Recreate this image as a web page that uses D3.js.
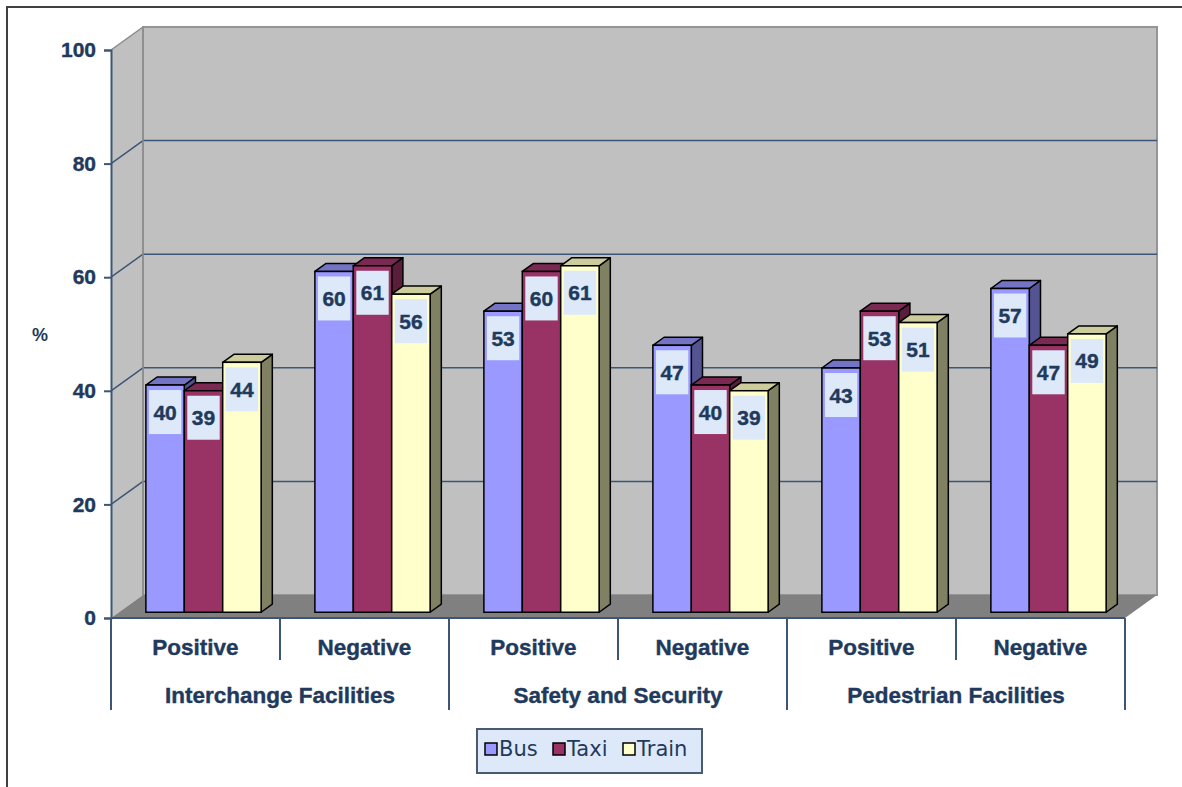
<!DOCTYPE html>
<html>
<head>
<meta charset="utf-8">
<script src="https://cdn.jsdelivr.net/npm/d3@7"></script>
<style>
  body { margin: 0; background: #fff; }
  svg { display: block; }
</style>
</head>
<body>
<div id="chart"></div>
<script>
const groups = ["Interchange Facilities", "Safety and Security", "Pedestrian Facilities"];
const subCats = ["Positive", "Negative"];
const series = ["Bus", "Taxi", "Train"];
const bus   = [40, 60, 53, 47, 43, 57];
const taxi  = [39, 61, 60, 40, 53, 47];
const train = [44, 56, 61, 39, 51, 49];
const yTicks = [0, 20, 40, 60, 80, 100];

const W = 1182, H = 787;
const navy = "#1f3a5c";
const axisCol = "#3d5675";
const boldFont = "Liberation Sans, Arial, sans-serif";

// colours per series: front, top, side
const colors = {
  Bus:   ["#9999ff", "#7474c4", "#545493"],
  Taxi:  ["#993366", "#7a2952", "#5a1d3b"],
  Train: ["#ffffcc", "#cccc9c", "#808062"]
};

const plotLeft = 111, plotRight = 1125, plotBottom = 618, plotTop = 50;
const depth = [32, -23]; // 3d offset of the back wall

const svg = d3.select("#chart").append("svg")
  .attr("width", W).attr("height", H);

// outer frame
svg.append("rect")
  .attr("x", 7).attr("y", 7).attr("width", W + 10).attr("height", H + 10)
  .attr("fill", "#fff").attr("stroke", "#404040").attr("stroke-width", 2);

const y = d3.scaleLinear().domain([0, 100]).range([plotBottom, plotTop]);

const cats = [];
groups.forEach(g => subCats.forEach(s => cats.push(g + "|" + s)));
const x0 = d3.scaleBand().domain(cats).range([plotLeft, plotRight]);
const x1 = d3.scaleBand().domain(series).range([0, x0.bandwidth()]).paddingOuter(0.7);

const dx = depth[0], dy = depth[1];

// side wall
svg.append("path")
  .attr("d", `M${plotLeft},${y(100)} L${plotLeft + dx},${y(100) + dy} L${plotLeft + dx},${y(0) + dy} L${plotLeft},${y(0)} Z`)
  .attr("fill", "#c0c0c0");
// back wall
svg.append("rect")
  .attr("x", plotLeft + dx).attr("y", y(100) + dy)
  .attr("width", plotRight - plotLeft).attr("height", y(0) - y(100))
  .attr("fill", "#c0c0c0").attr("stroke", "#959595").attr("stroke-width", 2);
// floor
svg.append("path")
  .attr("d", `M${plotLeft},${y(0)} L${plotRight},${y(0)} L${plotRight + dx},${y(0) + dy} L${plotLeft + dx},${y(0) + dy} Z`)
  .attr("fill", "#808080");

// gridlines (side wall diagonal + back wall)
const grid = svg.append("g");
yTicks.forEach(t => {
  if (t === 0) return;
  const c = t === 100 ? "#8a8a8a" : axisCol;
  grid.append("line")
    .attr("x1", plotLeft).attr("y1", y(t)).attr("x2", plotLeft + dx).attr("y2", y(t) + dy)
    .attr("stroke", c).attr("stroke-width", 1.5);
  if (t !== 100) {
    grid.append("line")
      .attr("x1", plotLeft + dx).attr("y1", y(t) + dy).attr("x2", plotRight + dx).attr("y2", y(t) + dy)
      .attr("stroke", c).attr("stroke-width", 1.5);
  }
});
// left edge of back wall
grid.append("line")
  .attr("x1", plotLeft + dx).attr("y1", y(100) + dy).attr("x2", plotLeft + dx).attr("y2", y(0) + dy)
  .attr("stroke", "#8e8e8e").attr("stroke-width", 1.5);

// bars
const f0 = 0.25, f1 = 0.6; // bar front / back plane as fraction of depth
const data = cats.map((c, i) => ({ cat: c, vals: { Bus: bus[i], Taxi: taxi[i], Train: train[i] } }));
const barG = svg.append("g");
const labels = [];
data.forEach(d => {
  series.forEach(s => {
    const v = d.vals[s];
    const bx = x0(d.cat) + x1(s) + dx * f0;
    const bw = x1.bandwidth();
    const by = y(v) + dy * f0;
    const b0 = y(0) + dy * f0;
    const ox = dx * (f1 - f0), oy = dy * (f1 - f0);
    const col = colors[s];
    barG.append("path") // side
      .attr("d", `M${bx + bw},${by} L${bx + bw + ox},${by + oy} L${bx + bw + ox},${b0 + oy} L${bx + bw},${b0} Z`)
      .attr("fill", col[2]).attr("stroke", "#000").attr("stroke-width", 1.5).attr("stroke-linejoin", "round");
    barG.append("path") // top
      .attr("d", `M${bx},${by} L${bx + ox},${by + oy} L${bx + bw + ox},${by + oy} L${bx + bw},${by} Z`)
      .attr("fill", col[1]).attr("stroke", "#000").attr("stroke-width", 1.5).attr("stroke-linejoin", "round");
    barG.append("rect") // front
      .attr("x", bx).attr("y", by).attr("width", bw).attr("height", b0 - by)
      .attr("fill", col[0]).attr("stroke", "#000").attr("stroke-width", 1.5);
    labels.push({ x: bx, w: bw, y: by, v: v });
  });
});

// value labels
const lab = svg.append("g");
labels.forEach(l => {
  lab.append("rect")
    .attr("x", l.x + 3).attr("y", l.y + 5).attr("width", l.w - 6).attr("height", 44)
    .attr("fill", "#dde9f8");
  lab.append("text")
    .attr("x", l.x + l.w / 2).attr("y", l.y + 27)
    .attr("text-anchor", "middle").attr("dominant-baseline", "central")
    .attr("font-family", boldFont).attr("font-weight", "bold")
    .attr("font-size", 21).attr("fill", navy)
    .attr("stroke", navy).attr("stroke-width", 0.4)
    .text(l.v);
});

// y axis
const yAxis = d3.axisLeft(y).tickValues(yTicks).tickSize(7).tickPadding(8);
const ya = svg.append("g").attr("transform", `translate(${plotLeft},0)`).call(yAxis);
ya.select(".domain").attr("stroke", axisCol).attr("stroke-width", 2);
ya.selectAll(".tick line").attr("stroke", axisCol).attr("stroke-width", 2);
ya.selectAll(".tick text")
  .attr("font-family", boldFont).attr("font-weight", "bold")
  .attr("font-size", 21).attr("fill", navy)
  .attr("stroke", navy).attr("stroke-width", 0.4);

svg.append("text")
  .attr("x", 40).attr("y", 335).attr("text-anchor", "middle").attr("dominant-baseline", "central")
  .attr("font-family", boldFont).attr("font-weight", "bold")
  .attr("font-size", 18).attr("fill", navy).text("%");

// x axis with two-level categories
const xa = svg.append("g");
xa.append("line")
  .attr("x1", plotLeft).attr("x2", plotRight).attr("y1", y(0)).attr("y2", y(0))
  .attr("stroke", axisCol).attr("stroke-width", 2);
cats.forEach((c, i) => {
  const xs = x0(c);
  const isGroupEdge = i % 2 === 0;
  xa.append("line")
    .attr("x1", xs).attr("x2", xs).attr("y1", y(0)).attr("y2", isGroupEdge ? 710 : 660)
    .attr("stroke", axisCol).attr("stroke-width", 2);
  xa.append("text")
    .attr("x", xs + x0.bandwidth() / 2).attr("y", 647)
    .attr("text-anchor", "middle").attr("dominant-baseline", "central")
    .attr("font-family", boldFont).attr("font-weight", "bold")
    .attr("font-size", 22.5).attr("fill", navy)
    .attr("stroke", navy).attr("stroke-width", 0.4)
    .text(c.split("|")[1]);
});
xa.append("line")
  .attr("x1", plotRight).attr("x2", plotRight).attr("y1", y(0)).attr("y2", 710)
  .attr("stroke", axisCol).attr("stroke-width", 2);
groups.forEach(g => {
  const xs = x0(g + "|" + subCats[0]);
  xa.append("text")
    .attr("x", xs + x0.bandwidth()).attr("y", 695)
    .attr("text-anchor", "middle").attr("dominant-baseline", "central")
    .attr("font-family", boldFont).attr("font-weight", "bold")
    .attr("font-size", 22.5).attr("fill", navy)
    .attr("stroke", navy).attr("stroke-width", 0.4)
    .text(g);
});

// legend
const lg = svg.append("g");
lg.append("rect")
  .attr("x", 477).attr("y", 729).attr("width", 225).attr("height", 44)
  .attr("fill", "#dde9f8").attr("stroke", "#4a5a70").attr("stroke-width", 2);
const legX = [485, 553, 623];
series.forEach((s, i) => {
  lg.append("rect")
    .attr("x", legX[i]).attr("y", 743).attr("width", 12).attr("height", 12)
    .attr("fill", colors[s][0]).attr("stroke", "#000").attr("stroke-width", 1.5);
  lg.append("text")
    .attr("x", legX[i] + 14).attr("y", 749)
    .attr("dominant-baseline", "central")
    .attr("font-family", "DejaVu Sans, Verdana, sans-serif")
    .attr("font-size", 21).attr("fill", navy)
    .text(s);
});
</script>
</body>
</html>
